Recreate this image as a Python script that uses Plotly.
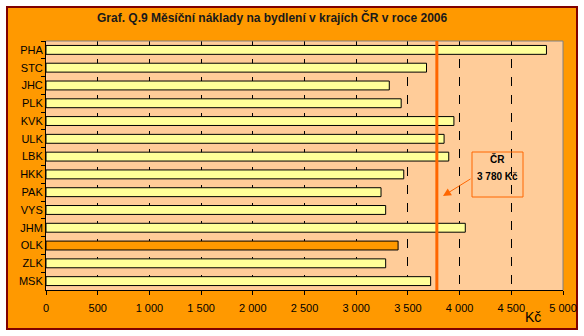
import plotly.graph_objects as go

regions = ["PHA", "STC", "JHC", "PLK", "KVK", "ULK", "LBK", "HKK",
           "PAK", "VYS", "JHM", "OLK", "ZLK", "MSK"]
costs = [4840, 3680, 3320, 3435, 3945, 3850, 3895, 3460,
         3240, 3285, 4055, 3405, 3285, 3720]
highlight = "OLK"
cr_value = 3780
x_ticks = [0, 500, 1000, 1500, 2000, 2500, 3000, 3500, 4000, 4500, 5000]
x_ticktext = ["0", "500", "1 000", "1 500", "2 000", "2 500", "3 000",
              "3 500", "4 000", "4 500", "5 000"]
title_text = "Graf. Q.9 Měsíční náklady na bydlení v krajích ČR v roce 2006"

bar_colors = ["#FF9900" if r == highlight else "#FFFF99" for r in regions]

FONT = "Liberation Sans, Arial, sans-serif"
W, H = 584, 336
L, R, T, B = 46, 21, 41, 46
pw, ph = W - L - R, H - T - B

def px_x(px):
    return (px - L) / pw

def px_y(py):
    return (H - B - py) / ph

fig = go.Figure()
fig.add_trace(go.Bar(
    x=costs, y=regions, orientation="h",
    marker=dict(color=bar_colors, line=dict(color="#000000", width=1)),
    width=0.5, hoverinfo="skip",
))

shapes = [
    dict(type="rect", xref="paper", yref="paper", layer="below",
         x0=px_x(7), x1=px_x(577), y0=px_y(329), y1=px_y(7),
         fillcolor="#FF9900", line=dict(color="#800000", width=2)),
    dict(type="rect", xref="paper", yref="paper", layer="below",
         x0=0, x1=1, y0=0, y1=1, fillcolor="#FFCC99", line=dict(width=0)),
    dict(type="line", xref="paper", yref="paper", layer="above",
         x0=0, x1=1, y0=1, y1=1, line=dict(color="#808080", width=1)),
    dict(type="line", xref="paper", yref="paper", layer="above",
         x0=1, x1=1, y0=0, y1=1, line=dict(color="#808080", width=1)),
    dict(type="line", xref="x", yref="paper", layer="above",
         x0=cr_value, x1=cr_value, y0=0, y1=1,
         line=dict(color="#FF6600", width=3)),
    dict(type="rect", xref="paper", yref="paper", layer="above",
         x0=px_x(472), x1=px_x(523), y0=px_y(197), y1=px_y(152),
         line=dict(color="#FF6600", width=1), fillcolor="rgba(0,0,0,0)"),
]

def ann(text, x, y, size, **kw):
    d = dict(text=text, xref="paper", yref="paper", x=px_x(x), y=px_y(y),
             xanchor="center", yanchor="middle", showarrow=False,
             font=dict(family=FONT, size=size, color="#000000"))
    d.update(kw)
    return d

annotations = [
    ann("<b>ČR</b>", 497, 159, 10),
    ann("<b>3 780 Kč</b>", 497, 176, 10),
    dict(text="", xref="paper", yref="paper",
         x=px_x(443), y=px_y(196), ax=29, ay=-18,
         showarrow=True, arrowhead=2, arrowsize=1.6, arrowwidth=1,
         arrowcolor="#FF6600"),
    ann("Kč", 533, 317, 14),
    ann("<b>" + title_text + "</b>", 272, 18, 12,
        font=dict(family=FONT, size=12, color="#1a1a1a")),
]

fig.update_layout(
    width=W, height=H,
    margin=dict(l=L, r=R, t=T, b=B, pad=0, autoexpand=False),
    paper_bgcolor="#FFFFFF",
    plot_bgcolor="rgba(0,0,0,0)",
    showlegend=False,
    bargap=0.5,
    font=dict(family=FONT, size=11, color="#000000"),
    shapes=shapes,
    annotations=annotations,
    xaxis=dict(
        range=[0, 5000], tickvals=x_ticks, ticktext=x_ticktext,
        showgrid=True, gridcolor="#000000", griddash="dash", gridwidth=1,
        zeroline=False, showline=True, linecolor="#000000", linewidth=1,
        ticks="outside", ticklen=4, tickcolor="#000000",
        ticklabelstandoff=4,
        tickfont=dict(family=FONT, size=11, color="#000000"),
        fixedrange=True, automargin=False,
    ),
    yaxis=dict(
        categoryorder="array", categoryarray=regions, autorange="reversed",
        showgrid=False, zeroline=False, showline=True,
        linecolor="#000000", linewidth=1,
        ticks="outside", ticklen=4, tickcolor="#000000",
        tickson="boundaries",
        tickfont=dict(family=FONT, size=11, color="#000000"),
        fixedrange=True, automargin=False,
    ),
)

fig.write_html("out.html")
